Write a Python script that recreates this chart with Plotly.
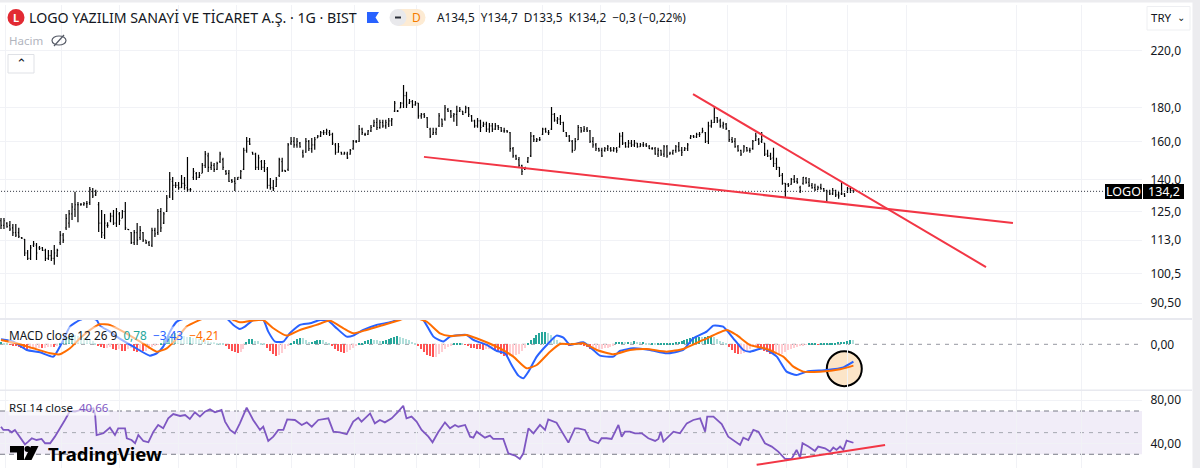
import plotly.graph_objects as go
from plotly.subplots import make_subplots

W, H = 1200, 468
FONT = "Noto Sans"
INK = "#131722"
GRID = "#f1f2f6"

# daily bars
highs = [122.2,122.2,120.4,120.9,119.6,119.6,118,114.3,113.5,109.2,111.1,112.7,111.9,110.7,110.3,109.6,109.2,109.2,111.1,109.6,
116.7,115.9,123.9,125.7,128.8,134,129.3,128.8,129.3,129.7,136.3,135.8,134.9,129.3,125.7,123.9,120.4,124.4,125.7,126.6,
124.8,125.7,129.3,117.5,116.3,117.1,120,118.8,116.3,113.1,112.7,118,118,126.1,126.6,124.8,132.5,143.7,141.2,138.7,
138.7,142.2,141.2,151.5,135.8,145.7,143.7,143.7,148.3,154.7,153.7,148.9,148.3,148.9,154.2,151,144.7,144.7,140.2,141.2,
141.2,144.7,156.4,162.5,161.9,154.2,153.7,152.6,149.9,149.9,146.2,140.7,139.7,141.2,151,151,144.7,159.1,162.5,162.5,
161.9,159.7,155.3,161.9,160.8,161.9,162.5,163.7,166,166.6,167.2,166.6,164.9,159.1,159.1,154.2,154.2,154.2,155.8,160.8,
160.8,169.5,167.8,164.9,166.6,169.5,172.6,173.8,172.6,172.6,172.6,173.8,173.8,184.4,178.7,183.8,195.2,190.5,185.8,185.1,
184.4,183.2,176.8,176.8,174.4,167.8,167.8,167.8,176.8,173.2,181.9,180,178.7,176.8,181.3,180.6,178.1,181.3,180.6,175.6,
172.6,173.8,172.6,171.4,171.4,170.7,170.7,170.7,169.5,168.3,167.8,166.6,165.4,156.9,152.6,151.5,147.3,146.2,151.5,165.4,
163.7,161.9,162.5,167.8,167.8,166.6,180.6,176.8,174.4,175.6,171.4,165.4,163.7,160.8,161.9,169.5,168.3,168.9,168.3,166.6,
162.5,159.1,156.4,156.4,156.9,158,156.9,156.9,156.9,164.9,165.4,159.7,160.8,160.8,160.8,159.1,159.1,159.7,159.1,158,
156.9,156.9,156.4,155.3,158,158,154.2,155.3,158,159.7,156.9,156.9,159.1,163.7,163.7,164.9,165.4,167.8,165.4,171.4,
172.6,180.6,174.4,173.2,171.4,170.7,166.6,162.5,161.9,158,155.3,158,156.9,156.4,160.8,164.9,161.9,165.4,159.1,155.3,
153.7,156.4,151,146.2,143.2,138.2,138.2,140.7,142.2,140.7,136.8,141.2,141.2,140.7,138.2,137.8,136.8,137.8,135.8,134.9,
134.9,135.8,134.9,133.9,138.7,133.4,136.3,135.8,134.7]
lows = [117.5,117.5,118,116.7,114.7,114.3,113.9,113.5,106.9,105.4,105.4,110.3,105.4,109.2,108.8,105,105.4,105,103.6,106.5,
111.1,111.9,117.1,118,121.3,122.6,120.4,127.5,127.5,126.6,127.9,131.1,132,116.3,113.9,113.5,118,120.4,119.2,118.4,
119.2,122.2,117.1,117.1,111.5,111.1,111.1,113.1,112.3,111.5,110.7,110.3,114.3,115.1,116.3,119.6,124.8,131.1,130.2,135.8,
134.9,135.8,134.9,133.9,133.9,139.7,139.7,140.7,143.2,145.7,143.7,144.7,143.7,144.7,148.3,144.7,142.2,138.7,138.2,134.4,
139.7,140.2,144.7,153.7,158,152.6,144.7,144.7,144.7,143.7,135.4,134.9,134.4,136.3,141.2,143.7,143.7,144.2,158,156.4,
156.4,156.4,151,153.7,154.7,153.7,155.3,161.9,162.5,163.7,163.7,163.1,158,152.6,153.7,152.6,152.6,150.4,152.6,155.3,
159.1,159.7,163.7,163.1,163.7,165.4,168.3,166.6,167.2,167.8,167.2,168.3,168.9,177.5,177.5,180,180,180,182.5,180,
181.3,173.2,173.2,173.8,167.8,161.9,163.7,163.7,168.3,168.3,172,177.5,173.8,171.4,168.9,177.5,175.6,176.8,174.4,171.4,
167.8,167.8,165.4,168.3,165.4,164.9,165.4,166.6,166.6,165.4,164.9,164.9,154.2,151,149.9,146.2,142.2,144.7,148.3,151.5,
159.7,159.7,160.2,163.7,164.9,163.7,166.6,171.4,170.1,169.5,165.4,162.5,159.7,153.7,155.3,160.8,164.9,165.4,165.4,159.1,
156.4,154.7,154.2,151.5,154.2,154.7,154.2,154.2,153.7,156.4,158,156.4,156.4,156.9,156.9,156.4,156.9,156.9,156.9,155.8,
155.3,152.6,151.5,152,151.5,151,152.6,152.6,153.7,154.2,152,154.7,154.7,161.3,161.9,161.9,162.5,164.9,159.1,158.5,
167.8,170.7,170.7,167.8,167.2,166.6,159.7,159.1,156.4,154.2,152,154.2,154.2,153.7,155.3,160.2,158,159.1,152,151.5,
149.9,146.2,144.7,141.2,137.3,131.1,136.3,137.3,138.2,137.8,133.4,137.3,137.8,136.3,135.4,134.4,134.9,134.9,133.9,128.8,
132.5,132.5,131.6,130.7,132.5,131.6,133.4,133.4,133.5]
opens = [121,119,120,119,118,116,116,114,113.3,108,106,111,111,110,110,109,106,107,106,107,
112,115,118,120,124,126,128,128,128,128.5,129,134,132.5,128,120,115,119,121,123,120,
124,122,125,117.4,116,112,116,114,116,113,112,111,117,116,125,120,125,132,139,137,
137,136,138,136,135,141,143,141,143,147,152,146,147,145,149,150,144,143,139.5,139,
140,141,145,155,160,154,153,146,149,146,145,137,136,136.5,142,149,144.5,145,159,160,
158,159,154,154,160,156,158,162,163,165,165,165,164,158,154,154,153,153,153,156,
160,160,167,164,164,166,169,171,168,171,169,170,172,178,178,180,183,188,183,184,
182,183,175,176,174,167,164,165,169,173,173,179,178,175,176,178,178,177,180,175,
172,169,172,169,170,167,169,167,169,168,166,166,165,156,152,150,147,145,149,152,
163,160,161,164,167,165,167,176,172,173,171,165,163,160,155,161,168,166,167,166,
160,158,156,155,155,156,156,155,156,157,163,159,157,159,158,159,157,158,158,157,
156,156,153,155,153,157,153,153.5,155,157,155,155,156,162,163,162.5,164,165,165,160,
169,171,174,172,169,170,166,161,160,157,155,154,156.5,155,156,160.5,161,160,159,153,
152,151,148,146,142,138,137.5,137.5,140,139,136,138,140.5,138.5,137,136,135,136,135.5,134.5,
134,133,134.5,132.5,133,133,134,135.5,134.5]
closes = [119,121,118.5,117.5,116,115,114.5,113.8,108,106,110,111.5,108,109.8,109,106,107,106,108,109,
115,113,122,124,127,128,128,128.2,128.5,128.5,135,132,133.5,120,116,120,119,123,120,125,
121,125,118,117.3,112,116,113,117,113,112,111,117,115.5,125,118,124,131,140,137,137,
136,138,137,135,135,144,141,142,147,153,146,147,145,148,153,146,143,139,139,138,
141,144,155,160,158.5,153,146,151,146,148,137,136,135.5,140,150,144.5,144,158,160,158,
160,157,152,160,156,158,161,163,165,165,166,164,159,154,157,153,153.5,151,155,160,
160,167,165,164,166,168,171,168,171,169,171,172,173,183,178,183,188,182,184,182,
183,175,176,175,168,163,165,167,175,170,180,178,175,176,178,179,176,180,176,172,
169,172,168,170,167,169,167,169,168,166,166,165.5,156,152,150.5,147,144,146,151,163,
161,161,161,167,165.5,165,176,172.5,173,171,166,163,160.5,155,160,168,166,167,166,160,
158,156,155,152,156,157,155,156,155,163,159,157,159,158,159,157,158,158,157.5,156,
156,153,155,153,157,152,153.5,155,157,155,154,156,158,163,162.5,164,164,166,160,169,
171,174,172,169,170,167.5,161,160,157,155,153,157,155,155,160,163,159,161,153,152,
150.5,148,146,142,138,137.5,137,140,139,138.5,134.5,141,138.5,137,136,135,136,135.5,134.5,134,
133,134.5,132.5,132,133,132,135.5,134.6,134.2]
bar_idx = list(range(len(closes)))
last_close = 134.2

grid_idx = [1.4,20.6,40.2,59.8,79.4,98,119.3,140.5,161.8,183.1,202.7,226,245.6,265.5,286.1,306,343.2,365.2]
price_ticks = [220,180,160,140,125,113,100.5,90.5]
price_labels = ["220,0","180,0","160,0","140,0","125,0","113,0","100,5","90,50"]

lower_idx, lower_price = [142.9,341.9], [151.5,120]
upper_idx, upper_price = [233.8,332.8], [189,102.8]

# macd pane
macd_idx = [0,4.2,8.7,13.2,17.7,20.5,23.3,26.7,29.5,32.3,33.4,36.8,39.1,44.7,50.3,52.6,54.8,57.1,59.4,61.6,67.2,72.9,76.2,78.5,80.7,82.4,85.2,88.6,90.3,92.6,95.4,97.6,101,104.4,107.8,110.6,113.4,116.8,119,122.4,126.9,131.4,133.7,136,140.4,142.7,146.1,149.4,151.7,157.3,159.6,164.1,167.5,170.3,172.5,174.8,176.5,178.2,181,184.4,187.7,190,192.2,196.7,200.1,202.4,206.9,209.1,213.6,219.3,224.9,230.5,233.9,238.4,240.7,244,247.4,250.8,253,257.6,262.1,265.4,268.8,272.2,279,284.6,288]
macd_vals = [.99,.53,-1.12,-1.58,-2.43,.2,3.49,4.8,5.26,4.8,3.68,2.5,1.51,-.46,-2.24,-1.78,-.46,2.5,4.47,5,5.66,5.66,5.13,3.82,3.03,3.49,4.8,4.8,2.5,.53,.53,2.17,3.82,4.14,4.8,4.61,3.16,1.51,1.71,2.83,3.82,4.34,4.8,5.66,5.66,4.8,1.51,.53,1.51,1.84,.86,-.13,-1.32,-1.78,-4.08,-6.18,-6.71,-5.39,-2.43,-.13,1.71,1.32,-.13,.39,-1.12,-2.24,-2.43,-1.32,-.79,-1.12,-1.78,-1.12,1.18,2.5,3.68,3.49,1.18,-1.12,-1.45,-.79,-2.43,-5.39,-6.05,-5.39,-5.07,-4.54,-3.43]
signal_idx = [0,5.3,10.9,16.6,19.9,23.3,26.7,30.1,33.4,36.8,41.3,47,52.6,56,59.4,62.7,67.2,72.9,78.5,80.7,84.1,88.6,92,96.5,101,106.6,111.1,115.7,119,123.5,129.2,134.8,138.2,143.8,148.3,151.7,157.3,163,168.6,173.1,177.6,181,185.5,188.9,192.2,196.7,201.3,206.9,212.5,218.1,224.9,230.5,237.3,245.2,248.5,253,258.7,264.3,267.7,271.1,276.7,283.5,288]
signal_vals = [.86,.2,-.79,-1.78,-1.97,-.79,1.18,2.83,3.95,3.82,2.5,.53,-1.45,-.79,1.18,3.49,4.8,6.12,4.8,4.34,4.61,4.8,3.16,1.71,2.83,3.82,4.67,3.16,2.17,2.83,3.82,4.8,5.46,4.47,2.17,1.64,1.84,.66,-.79,-2.43,-4.74,-4.08,-1.45,.07,0,.2,-1.12,-1.97,-1.12,-.92,-1.45,-.92,.86,2.83,1.84,-.13,-.92,-2.43,-4.41,-5.39,-5.39,-4.93,-4.21]
hist_vals = [.4,.3,.1,-.1,-.2,-.3,-.5,-.7,-.9,-1.1,-1.0,-.8,-.7,-.7,-.8,-.7,-.6,-.5,-.6,-.4,
.3,.8,1.2,1.5,1.9,1.8,1.6,1.4,1.2,1.0,.8,.6,.3,
-.2,-.5,-.8,-.7,-.6,-1.0,-1.1,-.9,-1.3,-1.4,-1.0,-.8,-1.3,-1.5,-1.2,-1.4,-1.3,-.9,-.6,-.3,-.1,
.3,.8,1.2,1.6,2.0,2.2,2.0,1.9,1.7,1.5,1.5,1.3,1.2,1.0,.9,.8,.6,.5,.4,.3,.2,.1,
-.4,-.9,-1.3,-1.6,-1.8,-1.5,-.9,.5,1.0,1.0,.7,.6,.3,.1,
-.7,-1.3,-2.0,-2.4,-2.2,-1.8,-1.0,-.4,
.2,.7,1.1,1.3,1.2,.8,.5,.5,.7,.8,.9,.8,.5,.2,
-.3,-1.0,-1.4,-1.6,-1.7,-1.5,-1.1,-.7,-.2,
.2,.3,.6,.9,1.0,.9,.8,.6,.6,.8,1.0,1.2,1.5,1.6,1.4,1.3,1.0,.8,.5,.2,
-.4,-1.0,-1.6,-2.2,-2.4,-2.6,-2.5,-2.0,-1.6,-1.0,-.6,-.3,
.1,.1,.2,.1,-.1,-.4,-.7,-.8,-.9,-1.0,-1.1,-1.0,-.9,-.8,
-1.2,-1.6,-2.0,-2.3,-2.4,-2.4,-2.4,-2.2,-1.9,-1.4,-.7,
.2,.8,1.3,1.8,2.2,2.5,2.5,2.3,1.8,1.3,.8,.4,
.1,-.1,-.2,.1,.2,.1,-.1,-.3,-.5,
-1.0,-1.0,-.9,-.9,-.9,-.8,-.7,-.5,-.3,
.4,.5,.5,.4,.5,.4,.6,.5,.4,.4,.3,.2,.2,.1,.1,.1,.1,.2,.3,.3,.4,
.5,.7,.8,1.0,1.2,1.4,1.5,1.5,1.4,1.4,1.6,1.7,1.4,1.0,.7,.4,.1,
-.5,-1.2,-1.7,-2.0,-2.0,-1.8,-1.4,-.9,-.6,-.5,
-.7,-.9,-1.3,-1.6,-1.9,-2.0,-2.0,-2.0,-1.9,-1.5,-1.2,-1.0,-.7,-.5,-.4,-.2,-.1,
.1,.1,.2,-.1,.2,.2,.3,.3,.3,.3,.4,.5,.5,.6,.8,.78]

# rsi pane
rsi_idx = [0,.8,2.5,3.6,4.7,6.4,8.1,9.2,10.4,12,13.7,14.9,16.6,18.2,20,21.6,23.3,25,26.7,29,31.2,31.8,32.3,34.6,36.8,38.5,39.6,41.9,42.5,44.1,45.3,46.4,48.1,49.8,51.5,53.1,54.8,56.5,58.2,60.5,62.2,63.8,65.5,67.2,68.9,70.6,72.3,74.5,75.7,77.4,79,80.7,83,85.2,87.5,88.6,90.3,92,93.7,95.4,96.7,99.3,101.6,103.3,105,107.2,110.6,112.3,114.5,116.8,119,120.7,121.8,124.7,126.3,128,129.7,132,134.2,135.9,137,138.7,140.4,142.1,144.4,145.8,147.7,150,
151.7,153.4,154.5,156.8,158.5,159.6,160.7,163.5,165.2,166.3,169.7,171.4,173.7,175.3,176.5,178.2,179.9,182.1,183.8,184.9,187.7,189.4,191.7,193.9,195,197.3,199,201.8,202.9,204.6,206.3,208.6,209.7,210.8,212.5,214.2,216.5,218.7,221,222.1,222.9,223.8,225.5,227.2,229.4,231.7,233.9,236.2,237.9,238.6,240.7,243.5,245.7,247.4,249.7,250.8,252.5,254.2,255.9,258.1,260.4,262.6,264.9,267.1,268.8,270,270.8,272.8,275,276.1,278.4,280.1,281.2,282.3,283.5,284.6,285.7,288]
rsi_vals = [55.5,52.5,52.5,50.3,52.5,46.3,39.2,41.7,44.8,43.2,44.2,40.2,40.2,46.3,54,61.7,70,69.4,70.9,70.9,72.5,66.3,47.8,49.4,54.6,47.8,54,54,44.8,43.2,40.2,47.8,42.3,41.1,50.9,57.1,54,63.2,67.2,65.4,66.3,62.6,68.8,64.8,69.4,71.5,68.8,70.9,60.2,52.5,49.4,58.6,73.1,61.7,52.5,55.5,42.3,46.3,52.5,52.5,62.3,61.7,57.1,59.5,55.5,61.7,63.2,50.9,50.3,48.5,60.2,63.8,60.2,67.8,58.6,61.7,59.5,63.2,69.4,74.9,63.2,64.8,60.2,52.5,46.3,41.1,50.3,59.5,
54,57.1,55.5,57.1,46.3,45.4,50.9,45.4,47.2,44.2,44.2,30.9,28.8,25.7,30.9,54,49.4,57.1,52.5,62.3,59.2,50.9,40.8,54,54,52.5,43.2,40.2,44.8,44.8,44.2,57.1,46.3,50.9,50.9,49.4,49.4,44.8,42.3,44.2,50.9,41.7,46.3,50.9,49.4,58.6,61.7,63.2,50.9,64.8,64.8,58,46.3,43.2,38.6,45.4,43.2,52.5,50.9,40.2,37.1,32.5,25.7,25.7,34,26.9,40.2,37.1,33.1,37.1,35.5,32.5,36.2,34,37.1,34,42.6,40.66]
rsi_trend_idx, rsi_trend_vals = [255.3,298.7], [20.2,38.6]


def px(x):
    return x / W


def py(y):
    return 1 - y / H


def rect(x0, y0, x1, y1, fill, line=None, layer="above"):
    fig.add_shape(type="rect", xref="paper", yref="paper", x0=px(x0), x1=px(x1), y0=py(y0), y1=py(y1),
                  fillcolor=fill, line=dict(color=line or fill, width=1 if line else 0), layer=layer)


def circle(cx, cy, r, fill, line=None, width=0, layer="above"):
    fig.add_shape(type="circle", xref="paper", yref="paper", x0=px(cx - r), x1=px(cx + r), y0=py(cy + r), y1=py(cy - r),
                  fillcolor=fill, line=dict(color=line or fill, width=width), layer=layer)


def poly(points, fill):
    # outline given in screen pixels
    d = "M " + " L ".join(f"{px(x):.5f},{py(y):.5f}" for x, y in points) + " Z"
    fig.add_shape(type="path", xref="paper", yref="paper", path=d, fillcolor=fill, line=dict(width=0), layer="above")


def label(x, y, text, size=12, color=INK, anchor="left", bg=None, family=FONT, **kw):
    fig.add_annotation(xref="paper", yref="paper", x=px(x), y=py(y), text=text, showarrow=False, xanchor=anchor,
                       yanchor="middle", font=dict(family=family, size=size, color=color), bgcolor=bg, borderpad=0, **kw)


fig = make_subplots(rows=3, cols=1, shared_xaxes=True)

fig.add_trace(go.Ohlc(x=bar_idx, open=opens, high=highs, low=lows, close=closes, tickwidth=0.3,
                      increasing=dict(line=dict(color="#000000", width=1.2)),
                      decreasing=dict(line=dict(color="#000000", width=1.2))), row=1, col=1)
fig.add_trace(go.Scatter(x=[-1, 400], y=[last_close, last_close], mode="lines",
                         line=dict(color="#2a2e39", width=1, dash="1px,2px")), row=1, col=1)
for tx, ty in [(lower_idx, lower_price), (upper_idx, upper_price)]:
    fig.add_trace(go.Scatter(x=tx, y=ty, mode="lines", line=dict(color="#f23645", width=2)), row=1, col=1)

# histogram colours follow the usual rising / falling rule
hist_colors = []
for i, v in enumerate(hist_vals):
    prev = hist_vals[i - 1] if i else v
    if v >= 0:
        hist_colors.append("#26a69a" if v >= prev else "#b2dfdb")
    else:
        hist_colors.append("#ffcdd2" if v >= prev else "#ff5252")
fig.add_trace(go.Bar(x=bar_idx, y=hist_vals, marker=dict(color=hist_colors, line=dict(width=0)), width=0.5), row=2, col=1)
fig.add_trace(go.Scatter(x=macd_idx, y=macd_vals, mode="lines", line=dict(color="#2962ff", width=2, shape="spline", smoothing=0.5)), row=2, col=1)
fig.add_trace(go.Scatter(x=signal_idx, y=signal_vals, mode="lines", line=dict(color="#ff6d00", width=2, shape="spline", smoothing=0.5)), row=2, col=1)

fig.add_trace(go.Scatter(x=rsi_idx, y=rsi_vals, mode="lines", line=dict(color="#7e57c2", width=1.8)), row=3, col=1)
fig.add_trace(go.Scatter(x=rsi_trend_idx, y=rsi_trend_vals, mode="lines", line=dict(color="#f23645", width=2)), row=3, col=1)

fig.update_layout(width=W, height=H, margin=dict(l=0, r=0, t=0, b=0), showlegend=False, bargap=0,
                  plot_bgcolor="white", paper_bgcolor="white", font=dict(family=FONT, color=INK))
fig.update_xaxes(range=[-0.34, 385.5], domain=[0, 1142 / W], tickmode="array", tickvals=grid_idx, showticklabels=False,
                 showgrid=True, gridcolor=GRID, gridwidth=1, zeroline=False, showline=False, ticks="",
                 rangeslider_visible=False)
fig.update_yaxes(side="right", showline=False, zeroline=False, showgrid=True, gridcolor=GRID, gridwidth=1,
                 tickfont=dict(family=FONT, size=12, color=INK), ticks="outside", ticklen=5, tickcolor="rgba(0,0,0,0)")
fig.update_yaxes(row=1, col=1, type="log", range=[1.93407, 2.41263], domain=[py(318), py(5)],
                 tickmode="array", tickvals=price_ticks, ticktext=price_labels)
fig.update_yaxes(row=2, col=1, range=[-9.01, 4.79], domain=[py(390), py(320)], tickmode="array", tickvals=[0],
                 ticktext=["0,00"], showgrid=False)
fig.update_yaxes(row=3, col=1, range=[17.3, 88.5], domain=[py(468), py(391)], tickmode="array", tickvals=[80, 40],
                 ticktext=["80,00", "40,00"])

# rsi band and dashed guides
fig.add_shape(type="rect", xref="x3 domain", yref="y3", x0=0, x1=1, y0=30, y1=70,
              fillcolor="rgba(126,87,194,0.11)", line=dict(width=0), layer="below")
for lvl, dash in [(70, "5px,4px"), (30, "5px,4px"), (50, "4px,5px")]:
    fig.add_shape(type="line", xref="x3 domain", yref="y3", x0=0, x1=1, y0=lvl, y1=lvl,
                  line=dict(color="#787b86" if lvl != 50 else "#a5a8b2", width=1, dash=dash), layer="below")
fig.add_shape(type="line", xref="x2 domain", yref="y2", x0=0, x1=1, y0=0, y1=0,
              line=dict(color="#9598a1", width=1, dash="4px,5px"), layer="below")

# highlighted circle on the macd pane
circle(844.3, 368.7, 17.5, "#fce5c8", "#000000", 2, layer="below")

# pane separators and window edges
rect(0, 318, 1192, 320, "#e8e9ef")
rect(0, 389.5, 1192, 391, "#e8e9ef")
rect(0, 0, 1200, 2.5, "#ececef")
rect(1192.5, 0, 1200, H, "#ececef")

# price tags
rect(1105, 184, 1142, 199, "#000000")
rect(1143, 184, 1184, 199, "#000000")
label(1123.5, 191.5, "LOGO", 12.5, "white", "center")
label(1163.5, 191.5, "134,2", 12.5, "white", "center")

# header
circle(16, 17.5, 8.5, "#e22a33")
label(16, 17.5, "<b>L</b>", 11, "white", "center")
label(28, 17.5, "LOGO YAZILIM SANAYİ VE TİCARET A.Ş. · 1G · BIST", 14.2, "#131722")
poly([(367, 12), (379, 12), (375.5, 17.5), (379, 23), (367, 23)], "#2962ff")
rect(398, 9, 418, 26, "#fdebd3")
circle(417, 17.5, 8.5, "#fdebd3")
circle(398, 17.5, 8.5, "#e9e9ec")
rect(395, 16.5, 401, 18.5, "#2a2e39")
label(417, 17.5, "D", 12, "#f57c00", "center")
label(436, 17.5, "A134,5  Y134,7  D133,5  K134,2  −0,3 (−0,22%)", 11.8, "#131722")
label(8, 40.5, "Hacim", 11.5, "#b2b5be")
fig.add_shape(type="circle", xref="paper", yref="paper", x0=px(52), x1=px(66), y0=py(45), y1=py(36),
              fillcolor="rgba(0,0,0,0)", line=dict(color="#555a66", width=1.2))
fig.add_shape(type="line", xref="paper", yref="paper", x0=px(54), x1=px(64), y0=py(46), y1=py(35),
              line=dict(color="#555a66", width=1.2))
rect(8, 54.5, 34, 73, "white", "#dfe1e6")
label(21, 63.5, "⌃", 13, "#131722", "center", family="DejaVu Sans")
rect(1147, 6.5, 1190, 30, "white", "#eeeff2")
label(1150, 18, "TRY", 11.5, "#131722")
label(1180.5, 18, "⌄", 10, "#131722", "center", family="DejaVu Sans")

# pane legends
label(8, 335, ('MACD close 12 26 9  <span style="color:#26a69a">0,78</span>  <span style="color:#2962ff">−3,43</span>'
               '  <span style="color:#ff6d00">−4,21</span>'), 11.8, "#131722", bg="rgba(255,255,255,0.55)")
label(8, 407, 'RSI 14 close  <span style="color:#7e57c2">40,66</span>', 11.5, "#131722", bg="rgba(255,255,255,0.6)")

# watermark
poly([(10, 446), (24, 446), (24, 460), (17, 460), (17, 452.5), (10, 452.5)], "#000000")
circle(27.5, 449, 3, "#000000")
poly([(31, 446), (38.5, 446), (31.5, 460), (24, 460)], "#000000")
label(47, 453.5, "<b>TradingView</b>", 18.5, "#000000")

# the page's default body margin would push the figure off by 8 px
fig.write_html("out.html", config={"displayModeBar": False}, post_script="document.body.style.margin='0';")
